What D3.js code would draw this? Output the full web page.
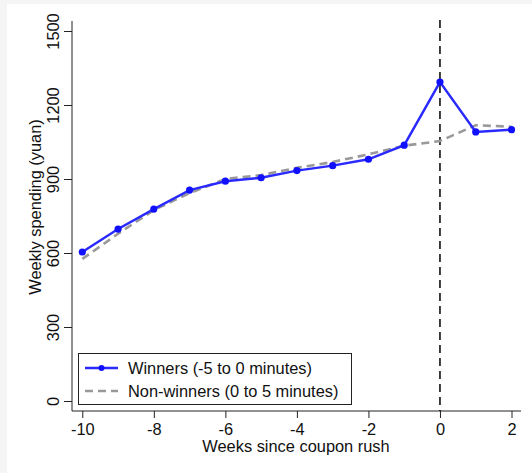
<!DOCTYPE html>
<html><head><meta charset="utf-8">
<script src="https://cdn.jsdelivr.net/npm/d3@7"></script>
<style>
html,body{margin:0;padding:0;background:#fff;}
svg text{font-family:"Liberation Sans",Arial,sans-serif;fill:#111;}
</style></head>
<body><svg id="c" width="532" height="473"></svg>
<script>
const weeks = [-10,-9,-8,-7,-6,-5,-4,-3,-2,-1,0,1,2];
const winners = [604,697,778,855,891,905,934,954,980,1037,1293,1091,1100];
const nonWinners = [576,678,774,843,900,916,945,969,1000,1035,1054,1118,1112];
const yTicks = [0,300,600,900,1200,1500];
const xTicks = [-10,-8,-6,-4,-2,0,2];
const seriesNames = ["Winners (-5 to 0 minutes)","Non-winners (0 to 5 minutes)"];
const FS = 16.4;

const svg = d3.select("#c");
svg.append("rect").attr("width",532).attr("height",473).attr("fill","#f5f5f5");
svg.append("rect").attr("x",7).attr("y",4).attr("width",525).attr("height",469).attr("fill","#fff");

const x = d3.scaleLinear().domain([-10,2]).range([82.3,511.5]);
const y = d3.scaleLinear().domain([0,1500]).range([401,31]);

// axes
const gx = svg.append("g").attr("transform","translate(0,411)")
  .call(d3.axisBottom(x).tickValues(xTicks).tickSize(7).tickSizeOuter(0).tickFormat(d=>d<0?"-"+Math.abs(d):String(d)));
gx.select(".domain").remove();
gx.selectAll("line").attr("stroke","#222");
gx.selectAll("text").attr("font-size",FS).attr("dy","0.95em").attr("y",8);
svg.append("line").attr("x1",72).attr("x2",521).attr("y1",411).attr("y2",411).attr("stroke","#222");

const gy = svg.append("g").attr("transform","translate(72,0)")
  .call(d3.axisLeft(y).tickValues(yTicks).tickSize(8).tickSizeOuter(0).tickFormat(d3.format("d")));
gy.select(".domain").remove();
gy.selectAll("line").attr("stroke","#222");
gy.selectAll("text").attr("font-size",FS).attr("x",null).attr("dy",null)
  .attr("text-anchor","middle")
  .attr("transform","translate(-13,0) rotate(-90)");
svg.append("line").attr("x1",72).attr("x2",72).attr("y1",21).attr("y2",411).attr("stroke","#222");

// titles
svg.append("text").attr("x",296).attr("y",452).attr("text-anchor","middle").attr("font-size",FS).text("Weeks since coupon rush");
svg.append("text").attr("transform","translate(41,207) rotate(-90)").attr("text-anchor","middle").attr("font-size",FS).text("Weekly spending (yuan)");

// vertical dashed line at 0
svg.append("line").attr("x1",x(0)).attr("x2",x(0)).attr("y1",20).attr("y2",411)
  .attr("stroke","#000").attr("stroke-width",1.5).attr("stroke-dasharray","8,5");

const line = d3.line().x((d,i)=>x(weeks[i])).y(d=>y(d));
svg.append("path").datum(nonWinners).attr("d",line).attr("fill","none")
  .attr("stroke","#999").attr("stroke-width",2.6).attr("stroke-dasharray","8,5");
svg.append("path").datum(winners).attr("d",line).attr("fill","none")
  .attr("stroke","#2a2aff").attr("stroke-width",2.4);
svg.selectAll("circle.w").data(winners).enter().append("circle").attr("class","w")
  .attr("cx",(d,i)=>x(weeks[i])).attr("cy",d=>y(d)).attr("r",3.6).attr("fill","#1010ff");

// legend
svg.append("rect").attr("x",78.5).attr("y",353.5).attr("width",273).attr("height",51)
  .attr("fill","#fff").attr("stroke","#222").attr("stroke-width",1);
svg.append("line").attr("x1",85).attr("x2",118).attr("y1",368).attr("y2",368).attr("stroke","#2a2aff").attr("stroke-width",2.4);
svg.append("circle").attr("cx",101.5).attr("cy",368).attr("r",3).attr("fill","#1010ff");
svg.append("line").attr("x1",85).attr("x2",118).attr("y1",391).attr("y2",391).attr("stroke","#999").attr("stroke-width",2.6).attr("stroke-dasharray","8,5");
svg.append("text").attr("x",128).attr("y",374).attr("font-size",FS).text(seriesNames[0]);
svg.append("text").attr("x",128).attr("y",397).attr("font-size",FS).text(seriesNames[1]);
</script></body></html>
